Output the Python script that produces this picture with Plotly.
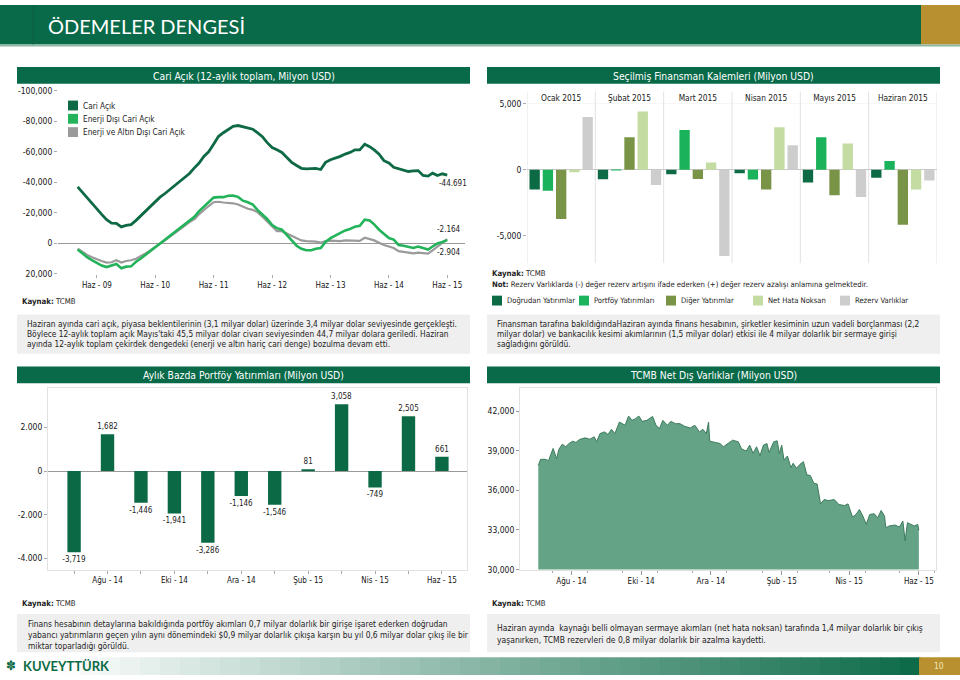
import plotly.graph_objects as go
import pandas as pd

W, H = 960, 680
def X(px): return px / W
def Y(py): return 1 - py / H

FONT = "DejaVu Sans Condensed, Roboto, sans-serif"
TFONT = "Lato, Open Sans, sans-serif"
GREEN = "#086a48"
GOLD = "#b8902f"
BOXBG = "#efefef"
TXT = "#222222"

# ---------------- Chart 1: Cari Açık (12-aylık toplam) ----------------
ca_dates = pd.date_range("2009-02-01", periods=77, freq="MS")
cari_acik = [-37000, -33500, -30000, -26000, -22500, -19000, -15500, -13300, -13200, -10800,
             -11800, -12300, -15100, -18000, -21200, -24300, -27200, -30300, -32700, -35400,
             -38100, -40600, -43300, -45800, -49500, -52500, -57000, -60000, -65000, -70000,
             -72500, -74600, -76700, -77200, -76300, -75500, -74800, -72500, -69900, -66000,
             -62800, -61300, -59600, -56300, -53100, -51000, -49200, -48800, -49000, -49200,
             -48400, -53100, -54800, -55700, -57000, -58500, -59600, -61300, -61300, -65000,
             -63400, -61300, -58500, -54200, -52700, -49900, -48800, -47700, -47100, -47500,
             -47700, -44500, -44100, -46000, -44500, -45600, -44691]
enerji_disi = [3900, 6500, 9000, 11000, 13000, 14500, 15500, 14600, 13500, 16200,
               15200, 15000, 12000, 10000, 7500, 5000, 2500, 0, -2500, -5000,
               -7500, -10000, -12500, -15000, -17500, -21000, -24000, -27500, -30000, -30300,
               -30300, -31200, -31300, -30500, -28000, -27000, -25500, -22000, -19000, -16000,
               -12000, -10000, -9000, -5500, -2000, 1500, 3500, 4500, 4500, 3500,
               3000, -1000, -3500, -5000, -7000, -8500, -9500, -11000, -11500, -15500,
               -15000, -12500, -9000, -6500, -3500, -2500, 1000, 1500, 2000, 3000,
               2000, 3000, 4000, 2000, 0, -1000, -2164]
enerji_altin_disi = [3400, 5500, 7500, 9000, 10500, 11500, 12500, 12300, 11000, 12500,
                     11500, 11000, 10000, 8500, 6500, 4500, 2500, 0, -2000, -4500,
                     -7000, -9000, -11500, -14000, -16000, -19000, -22000, -24500, -27000, -27300,
                     -26800, -26500, -26300, -25500, -24000, -22700, -22000, -20500, -17500, -14500,
                     -11500, -8000, -8000, -6500, -5000, -3500, -2000, -1500, -1500, -1200,
                     -500, -1500, -1900, -1800, -1500, -2000, -1900, -1800, -1700, -3700,
                     -2800, -2000, -500, 1000, 2000, 3000, 5000, 5500, 6000, 6500,
                     6000, 6500, 6700, 4500, 2000, 0, -2904]
ca_names = ["Cari Açık", "Enerji Dışı Cari Açık", "Enerji ve Altın Dışı Cari Açık"]
ca_colors = ["#0e6a44", "#22b35b", "#9a9a9a"]
ca_end_labels = ["-44.691", "-2.164", "-2.904"]
ca_yticks = [-100000, -80000, -60000, -40000, -20000, 0, 20000]
ca_xtick_vals = ["2009-06-01", "2010-06-01", "2011-06-01", "2012-06-01", "2013-06-01", "2014-06-01", "2015-06-01"]
ca_xtick_text = ["Haz - 09", "Haz - 10", "Haz - 11", "Haz - 12", "Haz - 13", "Haz - 14", "Haz - 15"]

# ---------------- Chart 2: Seçilmiş Finansman Kalemleri ----------------
fin_months = ["Ocak 2015", "Şubat 2015", "Mart 2015", "Nisan 2015", "Mayıs 2015", "Haziran 2015"]
dogrudan = [-1490, -720, -350, -270, -970, -620]
portfoy = [-1590, -50, 2990, -750, 2460, 650]
diger = [-3730, 2460, -700, -1490, -1940, -4160]
net_hata = [-200, 4400, 550, 3210, 1970, -1490]
rezerv = [3980, -1150, -6520, 1840, -2070, -820]
fin_names = ["Doğrudan Yatırımlar", "Portföy Yatırımları", "Diğer Yatırımlar", "Net Hata Noksan", "Rezerv Varlıklar"]
fin_colors = ["#0c6b45", "#1ab25a", "#7a9447", "#c4dca2", "#cdcdcd"]
fin_yticks = [-5000, 0, 5000]

# ---------------- Chart 3: Aylık Portföy Yatırımları ----------------
pf_months = ["Tem - 14", "Ağu - 14", "Eyl - 14", "Eki - 14", "Kas - 14", "Ara - 14",
             "Oca - 15", "Şub - 15", "Mar - 15", "Nis - 15", "May - 15", "Haz - 15"]
pf_values = [-3719, 1682, -1446, -1941, -3286, -1146, -1546, 81, 3058, -749, 2505, 661]
pf_yticks = [-4000, -2000, 0, 2000]
pf_ytick_text = ["-4.000", "-2.000", "0", "2.000"]

# ---------------- Chart 4: TCMB Net Dış Varlıklar ----------------
ndv_dates = ["2014-07-03", "2014-07-05", "2014-07-09", "2014-07-12", "2014-07-14", "2014-07-16",
             "2014-07-19", "2014-07-21", "2014-07-24", "2014-07-27", "2014-07-30", "2014-08-02",
             "2014-08-05", "2014-08-08", "2014-08-13", "2014-08-17", "2014-08-21", "2014-08-23",
             "2014-08-26", "2014-08-30", "2014-09-02", "2014-09-05", "2014-09-08", "2014-09-12",
             "2014-09-17", "2014-09-20", "2014-09-23", "2014-09-26", "2014-09-29", "2014-10-02",
             "2014-10-06", "2014-10-11", "2014-10-14", "2014-10-17", "2014-10-20", "2014-10-24",
             "2014-10-27", "2014-10-31", "2014-11-04", "2014-11-08", "2014-11-13", "2014-11-17",
             "2014-11-21", "2014-11-24", "2014-11-27", "2014-11-29", "2014-11-30", "2014-12-03",
             "2014-12-06", "2014-12-09", "2014-12-12", "2014-12-16", "2014-12-20", "2014-12-25",
             "2014-12-28", "2015-01-01", "2015-01-04", "2015-01-07", "2015-01-10", "2015-01-13",
             "2015-01-16", "2015-01-19", "2015-01-21", "2015-01-25", "2015-01-28", "2015-01-30",
             "2015-02-01", "2015-02-03", "2015-02-06", "2015-02-09", "2015-02-11", "2015-02-14",
             "2015-02-17", "2015-02-20", "2015-02-23", "2015-02-26", "2015-03-01", "2015-03-04",
             "2015-03-07", "2015-03-10", "2015-03-14", "2015-03-19", "2015-03-23", "2015-03-28",
             "2015-03-31", "2015-04-04", "2015-04-07", "2015-04-10", "2015-04-13", "2015-04-16",
             "2015-04-19", "2015-04-23", "2015-04-26", "2015-04-29", "2015-05-02", "2015-05-03",
             "2015-05-06", "2015-05-11", "2015-05-15", "2015-05-18", "2015-05-20", "2015-05-22",
             "2015-05-25", "2015-05-28", "2015-05-31", "2015-06-01"]
ndv_values = [37875, 38350, 38350, 38250, 38725, 39175,
              38400, 39100, 39500, 39300, 39550, 39725,
              39625, 39850, 39975, 39875, 40050, 39675,
              40300, 40425, 40225, 40625, 40300, 41175,
              40925, 41625, 41300, 41425, 41625, 41225,
              41300, 41600, 40925, 40675, 41300, 40925,
              41225, 41050, 41050, 40850, 40725, 40925,
              40425, 40625, 40300, 41175, 39725, 39675,
              39625, 39550, 39300, 39550, 39800, 39675,
              39125, 38975, 39425, 38800, 39300, 38625,
              39425, 39550, 38875, 39675, 39750, 38800,
              39425, 38300, 38600, 37725, 38050, 37675,
              37975, 38175, 37175, 37125, 36550, 36475,
              34975, 35300, 35225, 35300, 34925, 34850,
              34975, 33975, 34175, 34550, 34050, 33425,
              34175, 34225, 33925, 34475, 34050, 33175,
              33300, 33375, 33225, 33675, 32175, 33550,
              33425, 33300, 33425, 32975]
ndv_yticks = [30000, 33000, 36000, 39000, 42000]
ndv_xtick_vals = ["2014-08-01", "2014-10-01", "2014-12-01", "2015-02-01", "2015-04-01", "2015-06-01"]
ndv_xtick_text = ["Ağu - 14", "Eki - 14", "Ara - 14", "Şub - 15", "Nis - 15", "Haz - 15"]

fig = go.Figure()

# Chart 1 lines (gray, green, dark order)
for vals, name, col, w in [(enerji_altin_disi, ca_names[2], ca_colors[2], 2.2),
                           (enerji_disi, ca_names[1], ca_colors[1], 2.6),
                           (cari_acik, ca_names[0], ca_colors[0], 2.8)]:
    fig.add_trace(go.Scatter(x=ca_dates, y=vals, name=name, mode="lines",
                             line=dict(color=col, width=w), xaxis="x", yaxis="y"))

# Chart 2 bars
for vals, name, col in zip([dogrudan, portfoy, diger, net_hata, rezerv], fin_names, fin_colors):
    fig.add_trace(go.Bar(x=fin_months, y=vals, name=name, marker=dict(color=col, line=dict(width=0)),
                         xaxis="x2", yaxis="y2"))

# Chart 3 bars
fig.add_trace(go.Bar(x=pf_months, y=pf_values, width=0.4, marker=dict(color="#0b6a45", line=dict(width=0)),
                     text=[f"{v:,}" for v in pf_values], textposition="outside", cliponaxis=False,
                     constraintext="none",
                     textfont=dict(family=FONT, size=8, color=TXT), xaxis="x3", yaxis="y3",
                     name="Portföy Yatırımları"))

# Chart 4 area
fig.add_trace(go.Scatter(x=ndv_dates, y=ndv_values, mode="lines", fill="tozeroy",
                         fillcolor="#64a386", line=dict(color="#3d7b5d", width=1),
                         xaxis="x4", yaxis="y4", name="TCMB Net Dış Varlıklar"))

ytf = dict(family=FONT, size=8.5, color="#151515")
xtf = dict(family=FONT, size=8, color="#151515")
FRAME = "#e2e2e2"

fig.update_layout(
    width=W, height=H, margin=dict(l=0, r=0, t=0, b=0),
    paper_bgcolor="white", plot_bgcolor="white", showlegend=False,
    barmode="group", bargap=0.03, bargroupgap=0.22,
    font=dict(family=FONT, size=9, color=TXT),
    xaxis=dict(domain=[X(58), X(465)], anchor="y", type="date",
               range=["2008-10-01", "2015-09-20"], tickmode="array",
               tickvals=ca_xtick_vals, ticktext=ca_xtick_text, ticks="outside", ticklen=3,
               tickcolor="#aaa", showgrid=False, zeroline=False, showline=False, tickfont=xtf),
    yaxis=dict(domain=[Y(273), Y(87)], anchor="x", range=[20000, -100000], tickmode="array",
               tickvals=ca_yticks, ticktext=[f"{v:,}" for v in ca_yticks], ticks="outside",
               ticklen=3, tickcolor="#aaa", showgrid=False, zeroline=True, zerolinecolor="#9a9a9a",
               zerolinewidth=1.2, showline=False, tickfont=ytf),
    xaxis2=dict(domain=[X(527), X(937)], anchor="y2", type="category", range=[-0.5, 5.5],
                side="top", ticks="", showgrid=False, zeroline=False, showline=False,
                tickfont=dict(family=FONT, size=8.3, color="#222")),
    yaxis2=dict(domain=[Y(262), Y(100)], anchor="x2", range=[-7067, 5000], tickmode="array",
                tickvals=fin_yticks, ticktext=[f"{v:,}" for v in fin_yticks], ticks="outside",
                ticklen=3, tickcolor="#aaa", showgrid=False, zeroline=True, zerolinecolor="#c8c8c8",
                zerolinewidth=1, showline=False, tickfont=ytf),
    xaxis3=dict(domain=[X(48), X(467)], anchor="y3", type="category", range=[-0.78, 11.75],
                tickmode="array", tickvals=pf_months,
                ticktext=[m if i % 2 == 1 else "" for i, m in enumerate(pf_months)],
                ticks="outside", ticklen=3, tickcolor="#aaa", showgrid=False, zeroline=False,
                showline=True, mirror=True, linecolor=FRAME, tickfont=xtf),
    yaxis3=dict(domain=[Y(573), Y(389)], anchor="x3", range=[-4510, 3790], tickmode="array",
                tickvals=pf_yticks, ticktext=pf_ytick_text, ticks="outside", ticklen=3,
                tickcolor="#aaa", showgrid=False, zeroline=True, zerolinecolor="#9a9a9a",
                zerolinewidth=1.2, showline=True, mirror=True, linecolor=FRAME, tickfont=ytf),
    xaxis4=dict(domain=[X(520), X(936)], anchor="y4", type="date",
                range=["2014-06-17", "2015-06-16"], tickmode="array", tickvals=ndv_xtick_vals,
                ticktext=ndv_xtick_text, ticks="outside", ticklen=4, tickcolor="#999",
                minor=dict(ticks="outside", ticklen=2, tickcolor="#aaa", dtick="M1", tick0="2014-07-15",
                           showgrid=False),
                showgrid=False, zeroline=False, showline=True, mirror=True, linecolor=FRAME,
                tickfont=xtf),
    yaxis4=dict(domain=[Y(573), Y(389)], anchor="x4", range=[30000, 43730], tickmode="array",
                tickvals=ndv_yticks, ticktext=[f"{v:,}" for v in ndv_yticks], ticks="outside",
                ticklen=3, tickcolor="#999", showgrid=False, zeroline=False, showline=True,
                mirror=True, linecolor=FRAME, tickfont=ytf),
)

shapes = []
ann = []

def rect(x0, y0, x1, y1, color, layer="below"):
    shapes.append(dict(type="rect", xref="paper", yref="paper", x0=X(x0), x1=X(x1), y0=Y(y1), y1=Y(y0),
                       fillcolor=color, line=dict(width=0), layer=layer))

def txt(x, y, s, size=9, color=TXT, xanchor="left", family=FONT, **kw):
    ann.append(dict(x=X(x), y=Y(y), xref="paper", yref="paper", text=s, showarrow=False,
                    xanchor=xanchor, yanchor="middle", align="left",
                    font=dict(family=family, size=size, color=color), **kw))

# Header
rect(0, 0, 921, 40, GREEN)
rect(921, 0, 960, 40, GOLD)
rect(0, 40, 960, 42, "#8db7a3")
shapes.append(dict(type="line", xref="paper", yref="paper", x0=X(33), x1=X(33), y0=Y(40), y1=Y(0),
                   line=dict(color="#0d5f42", width=1)))
txt(46, 21, "ÖDEMELER DENGESİ", size=20, color="white", family=TFONT)

# Title bars
bars = [(17, 63, 470, 80, "Cari Açık (12-aylık toplam, Milyon USD)"),
        (487, 63, 940, 80, "Seçilmiş Finansman Kalemleri (Milyon USD)"),
        (17, 367, 470, 384, "Aylık Bazda Portföy Yatırımları (Milyon USD)"),
        (487, 367, 940, 384, "TCMB Net Dış Varlıklar (Milyon USD)")]
for x0, y0, x1, y1, t in bars:
    rect(x0, y0, x1, y1, GREEN)
    txt((x0 + x1) / 2, (y0 + y1) / 2 + 0.5, t, size=10.3, color="white", xanchor="center")

# Chart 1 legend
for i, (name, col) in enumerate(zip(ca_names, ca_colors)):
    yc = 102 + i * 13.5
    rect(68, yc - 5, 78, yc + 5, col, layer="above")
    txt(80.5, yc, name, size=8.2)

# Chart 1 end labels
ann.append(dict(x=ca_dates[-1], y=cari_acik[-1], xref="x", yref="y", text=ca_end_labels[0],
                showarrow=False, xanchor="center", yanchor="middle", xshift=6, yshift=-8,
                font=dict(family=FONT, size=8, color=TXT)))
ann.append(dict(x=ca_dates[-1], y=enerji_disi[-1], xref="x", yref="y", text=ca_end_labels[1],
                showarrow=False, xanchor="center", yanchor="middle", xshift=2, yshift=11,
                font=dict(family=FONT, size=8, color=TXT)))
ann.append(dict(x=ca_dates[-1], y=enerji_altin_disi[-1], xref="x", yref="y", text=ca_end_labels[2],
                showarrow=False, xanchor="center", yanchor="middle", xshift=2, yshift=-13,
                font=dict(family=FONT, size=8, color=TXT)))

txt(20, 301, "<b>Kaynak:</b> TCMB", size=7.8)

# Chart 2 separators
for i in range(len(fin_months) + 1):
    shapes.append(dict(type="line", xref="x2", yref="paper", x0=i - 0.5, x1=i - 0.5,
                       y0=Y(262), y1=Y(88), line=dict(color="#e2e2e2", width=1), layer="below"))
shapes.append(dict(type="line", xref="paper", yref="y2", x0=X(527), x1=X(937), y0=5000, y1=5000,
                   line=dict(color="#ececec", width=1), layer="below"))

txt(490, 272, "<b>Kaynak:</b> TCMB", size=7.8)
txt(490, 284, "<b>Not:</b> Rezerv Varlıklarda (-) değer rezerv artışını ifade ederken (+) değer rezerv azalışı anlamına gelmektedir.", size=7.7)

# Chart 2 legend
leg_x = [492, 579, 666, 753, 840]
for xs, name, col in zip(leg_x, fin_names, fin_colors):
    rect(xs, 295, xs + 10, 305, col, layer="above")
    txt(xs + 13, 300, name, size=7.6)

# Text boxes
rect(17, 314, 470, 354, BOXBG)
rect(487, 314, 940, 354, BOXBG)
rect(17, 618, 470, 657, BOXBG)
rect(487, 618, 940, 657, BOXBG)

box1 = ["Haziran ayında cari açık, piyasa beklentilerinin (3,1 milyar dolar) üzerinde 3,4 milyar dolar seviyesinde gerçekleşti.",
        "Böylece 12-aylık toplam açık Mayıs'taki 45,5 milyar dolar civarı seviyesinden 44,7 milyar dolara geriledi. Haziran",
        "ayında 12-aylık toplam çekirdek dengedeki (enerji ve altın hariç cari denge) bozulma devam etti."]
for i, s in enumerate(box1):
    txt(25, 323.5 + i * 10.5, s, size=8.3)

box2 = ["Finansman tarafına bakıldığındaHaziran ayında finans hesabının, şirketler kesiminin uzun vadeli borçlanması (2,2",
        "milyar dolar) ve bankacılık kesimi akımlarının (1,5 milyar dolar) etkisi ile 4 milyar dolarlık bir sermaye girişi",
        "sağladığını görüldü."]
for i, s in enumerate(box2):
    txt(495, 323.5 + i * 10.5, s, size=8.3)

txt(20, 607, "<b>Kaynak:</b> TCMB", size=7.8)
txt(490, 607, "<b>Kaynak:</b> TCMB", size=7.8)

box3 = ["Finans hesabının detaylarına bakıldığında portföy akımları 0,7 milyar dolarlık bir girişe işaret ederken doğrudan",
        "yabancı yatırımların geçen yılın aynı dönemindeki $0,9 milyar dolarlık çıkışa karşın bu yıl 0,6 milyar dolar çıkış ile bir",
        "miktar toparladığı görüldü."]
for i, s in enumerate(box3):
    txt(26, 628.5 + i * 10.8, s, size=8.4)

box4 = ["Haziran ayında  kaynağı belli olmayan sermaye akımları (net hata noksan) tarafında 1,4 milyar dolarlık bir çıkış",
        "yaşanırken, TCMB rezervleri de 0,8 milyar dolarlık bir azalma kaydetti."]
for i, s in enumerate(box4):
    txt(495, 632 + i * 12, s, size=8.5)

# Footer gradient
n = 46
for i in range(n):
    x0 = i * 920 / n
    x1 = (i + 1) * 920 / n + 0.6
    t = max(0.0, min(1.0, (x0 + 10 - 60) / 860))
    r = int(255 + (11 - 255) * t)
    g = int(255 + (106 - 255) * t)
    b = int(255 + (72 - 255) * t)
    rect(x0, 662, x1, 680, f"rgb({r},{g},{b})")
rect(919, 662, 960, 680, GOLD)
txt(939, 671, "10", size=8.5, color="#f3e6b8", xanchor="center")
txt(4, 670.5, "✽", size=13, color="#0c6b45")
txt(21, 670.5, "<b>KUVEYTTÜRK</b>", size=13, color="#0c6b45", family=TFONT)

fig.update_layout(shapes=shapes, annotations=ann)
fig.write_html("out.html", config={"displayModeBar": False},
               post_script="document.body.style.margin='0';document.body.style.overflow='hidden';")
